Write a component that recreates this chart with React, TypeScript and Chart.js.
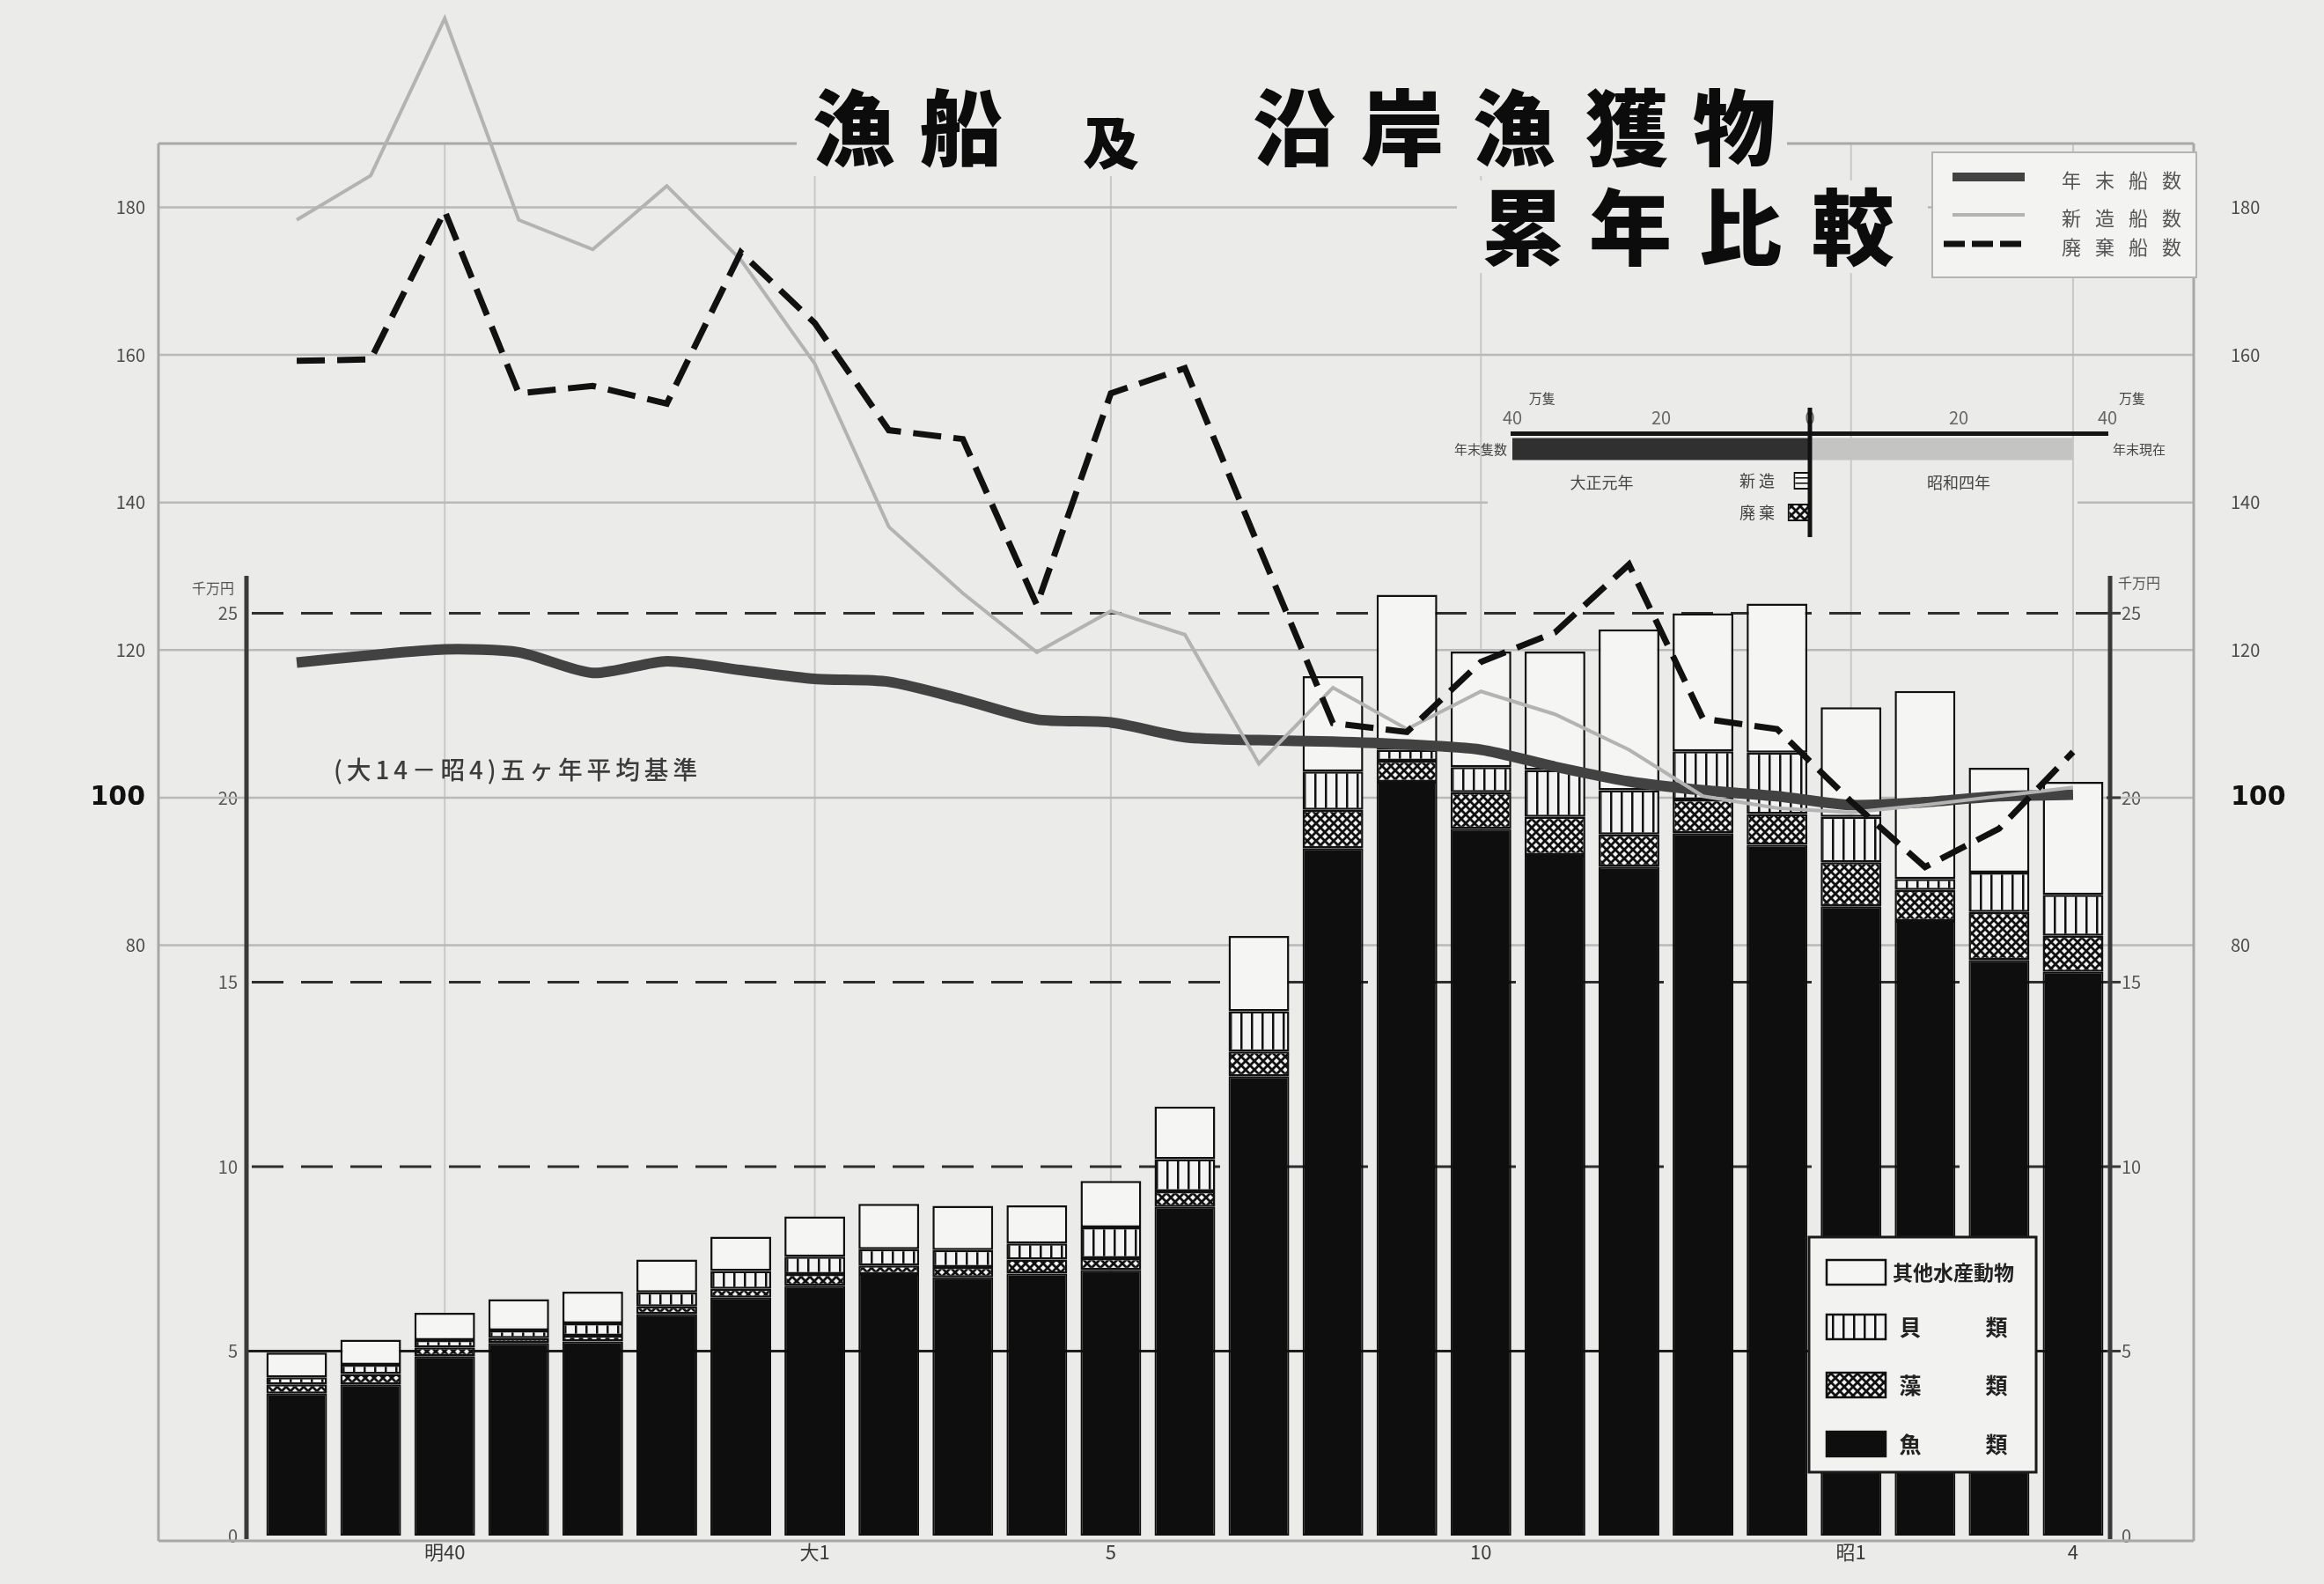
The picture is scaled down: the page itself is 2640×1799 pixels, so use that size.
import React, { useEffect, useRef } from 'react';
import { Chart, registerables } from 'chart.js';

Chart.register(...registerables);

const FONT = '"Noto Sans CJK JP", "Noto Sans", sans-serif';
const BG = '#ebebea';

// ---- categories (years) and tick labels ----
const years = ['明38', '明39', '明40', '明41', '明42', '明43', '明44', '大1', '大2', '大3', '大4', '大5', '大6', '大7', '大8', '大9', '大10', '大11', '大12', '大13', '大14', '昭1', '昭2', '昭3', '昭4'];
const xTickLabels = ['', '', '明40', '', '', '', '', '大1', '', '', '', '5', '', '', '', '', '10', '', '', '', '', '昭1', '', '', '4'];

// ---- 沿岸漁獲物 (千万円), stacked ----
const fish = [3.85, 4.10, 4.86, 5.22, 5.26, 6.01, 6.45, 6.77, 7.09, 7.00, 7.10, 7.20, 8.91, 12.45, 18.63, 20.43, 19.16, 18.45, 18.13, 19.04, 18.72, 17.06, 16.66, 15.60, 15.28];
const seaweed = [0.25, 0.28, 0.24, 0.13, 0.16, 0.20, 0.24, 0.32, 0.23, 0.28, 0.38, 0.32, 0.42, 0.67, 1.04, 0.57, 0.99, 1.03, 0.87, 0.91, 0.84, 1.19, 0.84, 1.30, 0.98];
const shellfish = [0.19, 0.25, 0.20, 0.21, 0.33, 0.38, 0.48, 0.47, 0.44, 0.46, 0.44, 0.83, 0.87, 1.09, 1.04, 0.30, 0.68, 1.27, 1.20, 1.31, 1.66, 1.23, 0.30, 1.07, 1.11];
const otherAnimals = [0.67, 0.68, 0.74, 0.85, 0.86, 0.89, 0.93, 1.09, 1.23, 1.20, 1.03, 1.26, 1.43, 2.04, 2.58, 4.20, 3.13, 3.21, 4.36, 3.74, 4.04, 2.97, 5.09, 2.84, 3.06];

// ---- 漁船 indices (大14-昭4 五ヶ年平均 = 100) ----
const boatsYearEnd = [118.3, 119.3, 120.1, 119.7, 116.9, 118.5, 117.3, 116.1, 115.7, 113.3, 110.6, 110.2, 108.2, 107.8, 107.6, 107.2, 106.5, 104.2, 102.2, 101.0, 100.2, 99.0, 99.4, 100.2, 100.4];
const boatsNew = [178.3, 184.3, 205.6, 178.3, 174.3, 182.9, 172.9, 158.8, 136.7, 127.7, 119.7, 125.3, 122.1, 104.6, 114.9, 109.3, 114.4, 111.3, 106.5, 100.2, 98.6, 98.0, 99.0, 100.2, 101.4];
const boatsScrapped = [159.2, 159.4, 179.5, 154.8, 155.8, 153.4, 173.9, 164.3, 149.8, 148.6, 126.1, 154.8, 158.2, 134.0, 110.1, 108.9, 118.4, 122.4, 131.6, 110.7, 109.3, 99.5, 90.6, 95.8, 106.2];

// ---- axis ticks ----
const innerTicks = [0, 5, 10, 15, 20, 25];
const indexTicks = [80, 100, 120, 140, 160, 180];
const PX_PER_UNIT = 41.9;
const YMAX = 41.62;

// ---- inset (万隻) ----
const insetRows = ['年末', '新造', '廃棄'];
const insetTicks = [-40, -20, 0, 20, 40];
const taishoBoats = [40.2, null, null];
const showaBoats = [35.3, null, null];
const newBoats = [null, 2.2, null];
const scrappedBoats = [null, null, 3.0];

function makePattern(kind: 'vert' | 'cross' | 'horiz'): CanvasPattern {
  const c = document.createElement('canvas');
  const g = c.getContext('2d') as CanvasRenderingContext2D;
  if (kind === 'vert') {
    c.width = 12; c.height = 12;
    g.fillStyle = '#f3f3f3'; g.fillRect(0, 0, 12, 12);
    g.fillStyle = '#111'; g.fillRect(5, 0, 2.5, 12);
  } else if (kind === 'horiz') {
    c.width = 8; c.height = 6;
    g.fillStyle = '#f3f3f3'; g.fillRect(0, 0, 8, 6);
    g.fillStyle = '#111'; g.fillRect(0, 2, 8, 1.6);
  } else {
    c.width = 10; c.height = 10;
    g.fillStyle = '#f3f3f3'; g.fillRect(0, 0, 10, 10);
    g.strokeStyle = '#111'; g.lineWidth = 2.8;
    g.beginPath();
    g.moveTo(-1, -1); g.lineTo(11, 11);
    g.moveTo(11, -1); g.lineTo(-1, 11);
    g.stroke();
  }
  return g.createPattern(c, 'repeat') as CanvasPattern;
}

function line(ctx: CanvasRenderingContext2D, x1: number, y1: number, x2: number, y2: number) {
  ctx.beginPath(); ctx.moveTo(x1, y1); ctx.lineTo(x2, y2); ctx.stroke();
}

function zeroPad(s: any) {
  s.paddingTop = 0; s.paddingBottom = 0; s.paddingLeft = 0; s.paddingRight = 0;
}

const FRAME_L = 180, FRAME_R = 2492, FRAME_T = 163, AXIS_L = 280;

const bgPlugin = {
  id: 'bgfill',
  beforeDraw(chart: any) {
    const { ctx, width, height } = chart;
    ctx.save(); ctx.fillStyle = BG; ctx.fillRect(0, 0, width, height); ctx.restore();
  },
};

const gridPlugin = {
  id: 'grids',
  beforeDatasetsDraw(chart: any) {
    const ctx: CanvasRenderingContext2D = chart.ctx;
    const x = chart.scales.x, yi = chart.scales.yIn, yx = chart.scales.yIdxL;
    const base = yi.getPixelForValue(0);
    const axisR = x.right;
    ctx.save();
    // vertical grid lines at labelled years
    ctx.strokeStyle = '#c8c8c8'; ctx.lineWidth = 2;
    xTickLabels.forEach((l, i) => { if (l) { const px = x.getPixelForValue(i); line(ctx, px, FRAME_T, px, base); } });
    // index grid lines
    ctx.strokeStyle = '#b9b9b9'; ctx.lineWidth = 2.5;
    indexTicks.forEach((v) => {
      const py = yx.getPixelForValue(v);
      if (v === 140) { line(ctx, FRAME_L, py, 1690, py); line(ctx, 2360, py, FRAME_R, py); }
      else line(ctx, FRAME_L, py, FRAME_R, py);
    });
    // outer frame
    ctx.strokeStyle = '#a8a8a8'; ctx.lineWidth = 3;
    line(ctx, FRAME_L, FRAME_T, FRAME_R, FRAME_T);
    line(ctx, FRAME_L, FRAME_T, FRAME_L, base + 6);
    line(ctx, FRAME_R, FRAME_T, FRAME_R, base + 6);
    line(ctx, FRAME_L, base + 6, FRAME_R, base + 6);
    // inner horizontal lines
    ctx.strokeStyle = '#1d1d1d'; ctx.lineWidth = 3;
    const p5 = yi.getPixelForValue(5);
    line(ctx, AXIS_L, p5, axisR, p5);
    ctx.setLineDash([36, 20]); ctx.strokeStyle = '#2e2e2e';
    [10, 15, 25].forEach((v) => { const py = yi.getPixelForValue(v); line(ctx, AXIS_L + 6, py, axisR, py); });
    ctx.setLineDash([]);
    // inner axes
    ctx.strokeStyle = '#3a3a3a'; ctx.lineWidth = 5;
    line(ctx, AXIS_L, 654, AXIS_L, base + 4);
    line(ctx, axisR, 654, axisR, base + 4);
    ctx.lineWidth = 3;
    innerTicks.forEach((v) => { if (v > 0) { const py = yi.getPixelForValue(v); line(ctx, axisR - 4, py, axisR + 12, py); } });
    ctx.restore();
  },
};

const overlayPlugin = {
  id: 'overlay',
  afterDatasetsDraw(chart: any) {
    const ctx: CanvasRenderingContext2D = chart.ctx;
    const ds = chart.data.datasets;
    ctx.save();
    // title
    ctx.fillStyle = BG;
    ctx.fillRect(905, 110, 1125, 90);
    ctx.fillRect(1655, 205, 535, 105);
    ctx.fillStyle = '#0c0c0c';
    ctx.textAlign = 'center'; ctx.textBaseline = 'middle';
    ctx.font = `900 94px ${FONT}`;
    const t1: [string, number][] = [['漁', 970], ['船', 1092], ['沿', 1470], ['岸', 1593], ['漁', 1720], ['獲', 1848], ['物', 1970]];
    t1.forEach(([c, cx]) => ctx.fillText(c, cx, 145));
    ctx.font = `900 64px ${FONT}`;
    ctx.fillText('及', 1262, 162);
    ctx.font = `900 94px ${FONT}`;
    const t2: [string, number][] = [['累', 1730], ['年', 1852], ['比', 1977], ['較', 2105]];
    t2.forEach(([c, cx]) => ctx.fillText(c, cx, 258));

    // top-right legend (lines)
    ctx.fillStyle = '#f3f3f2'; ctx.strokeStyle = '#b4b4b4'; ctx.lineWidth = 2;
    ctx.fillRect(2195, 173, 300, 142); ctx.strokeRect(2195, 173, 300, 142);
    const rows = [
      { ds: ds[4], y: 205, x1: 2218 },
      { ds: ds[5], y: 248, x1: 2218 },
      { ds: ds[6], y: 281, x1: 2208 },
    ];
    rows.forEach((r) => {
      ctx.strokeStyle = r.ds.borderColor; ctx.lineWidth = Math.min(r.ds.borderWidth, 10);
      ctx.setLineDash(r.ds.borderDash ? [24, 8] : []);
      line(ctx, r.x1, r.y - 4, 2300, r.y - 4);
      ctx.setLineDash([]);
      ctx.fillStyle = '#555'; ctx.font = `22px ${FONT}`;
      const chars = String(r.ds.label).split('');
      chars.forEach((c, k) => ctx.fillText(c, 2353 + k * 38, r.y));
    });

    // bottom-right legend (bars)
    ctx.fillStyle = '#f2f2f1'; ctx.strokeStyle = '#1a1a1a'; ctx.lineWidth = 3;
    ctx.fillRect(2055, 1405, 258, 267); ctx.strokeRect(2055, 1405, 258, 267);
    const barRows = [3, 2, 1, 0];
    const ys = [1445, 1507, 1573, 1640];
    barRows.forEach((di, k) => {
      const d = ds[di];
      ctx.fillStyle = d.backgroundColor; ctx.fillRect(2075, ys[k] - 14, 67, 28);
      ctx.strokeStyle = '#111'; ctx.lineWidth = 2.5; ctx.strokeRect(2075, ys[k] - 14, 67, 28);
      ctx.fillStyle = '#222';
      const lbl = String(d.label);
      if (lbl.length > 2) {
        ctx.font = `bold 23px ${FONT}`; ctx.textAlign = 'left';
        ctx.fillText(lbl, 2150, ys[k], 150);
        ctx.textAlign = 'center';
      } else {
        ctx.font = `bold 25px ${FONT}`;
        ctx.fillText(lbl[0], 2170, ys[k]); ctx.fillText(lbl[1], 2268, ys[k]);
      }
    });

    // base note
    ctx.fillStyle = '#3c3c3c'; ctx.font = `500 28px ${FONT}`; ctx.textAlign = 'left';
    (ctx as any).letterSpacing = '5px';
    ctx.fillText('(大14－昭4)五ヶ年平均基準', 379, 874, 418);
    (ctx as any).letterSpacing = '0px';

    // unit labels
    ctx.fillStyle = '#555'; ctx.font = `16px ${FONT}`; ctx.textAlign = 'center';
    ctx.fillText('千万円', 242, 668);
    ctx.fillText('千万円', 2430, 662);
    ctx.restore();
  },
};

const insetPlugin = {
  id: 'insetText',
  afterDatasetsDraw(chart: any) {
    const ctx: CanvasRenderingContext2D = chart.ctx;
    const xs = chart.scales.x, ys = chart.scales.y;
    const x0 = xs.getPixelForValue(0);
    ctx.save();
    ctx.strokeStyle = '#111'; ctx.lineWidth = 5;
    line(ctx, x0, 43, x0, 190);
    ctx.fillStyle = '#444'; ctx.textBaseline = 'middle';
    ctx.font = `15px ${FONT}`; ctx.textAlign = 'right';
    ctx.fillText('年末隻数', 112, ys.getPixelForValue(0));
    ctx.textAlign = 'left';
    ctx.fillText('年末現在', 800, ys.getPixelForValue(0));
    ctx.font = `18px ${FONT}`; ctx.textAlign = 'center';
    ctx.fillText('大正元年', xs.getPixelForValue(-28), 128);
    ctx.fillText('昭和四年', xs.getPixelForValue(20), 128);
    ctx.textAlign = 'right';
    ctx.fillText('新 造', x0 - 40, ys.getPixelForValue(1));
    ctx.fillText('廃 棄', x0 - 40, ys.getPixelForValue(2));
    ctx.font = `15px ${FONT}`; ctx.textAlign = 'center';
    ctx.fillText('万隻', xs.getPixelForValue(-36), 32);
    ctx.fillText('万隻', xs.getPixelForValue(40) + 28, 32);
    ctx.restore();
  },
};

export default function App() {
  const mainRef = useRef<HTMLCanvasElement | null>(null);
  const insetRef = useRef<HTMLCanvasElement | null>(null);

  useEffect(() => {
    Chart.defaults.font.family = FONT;
    const vert = makePattern('vert');
    const cross = makePattern('cross');
    const horiz = makePattern('horiz');

    const idxFont = (c: any) => (c.tick && c.tick.value === 100
      ? { size: 30, weight: 'bold', family: '"DejaVu Sans", sans-serif' }
      : { size: 20 });
    const idxColor = (c: any) => (c.tick && c.tick.value === 100 ? '#111' : '#4a4a4a');

    const main = new Chart(mainRef.current as HTMLCanvasElement, {
      type: 'bar',
      data: {
        labels: years,
        datasets: [
          { type: 'bar', label: '魚類', data: fish, backgroundColor: '#0e0e0e', borderColor: '#0e0e0e', borderWidth: 2, borderSkipped: false, yAxisID: 'yIn', order: 10, categoryPercentage: 1, barPercentage: 0.82 },
          { type: 'bar', label: '藻類', data: seaweed, backgroundColor: cross, borderColor: '#111', borderWidth: 2.5, borderSkipped: false, yAxisID: 'yIn', order: 10, categoryPercentage: 1, barPercentage: 0.82 },
          { type: 'bar', label: '貝類', data: shellfish, backgroundColor: vert, borderColor: '#111', borderWidth: 2.5, borderSkipped: false, yAxisID: 'yIn', order: 10, categoryPercentage: 1, barPercentage: 0.82 },
          { type: 'bar', label: '其他水産動物', data: otherAnimals, backgroundColor: '#f5f5f4', borderColor: '#111', borderWidth: 2.5, borderSkipped: false, yAxisID: 'yIn', order: 10, categoryPercentage: 1, barPercentage: 0.82 },
          { type: 'line', label: '年末船数', data: boatsYearEnd, borderColor: '#424242', borderWidth: 12, pointRadius: 0, tension: 0.25, yAxisID: 'yIdxL', order: 3, clip: false },
          { type: 'line', label: '新造船数', data: boatsNew, borderColor: '#b3b3b3', borderWidth: 4, pointRadius: 0, tension: 0, yAxisID: 'yIdxL', order: 2, clip: false },
          { type: 'line', label: '廃棄船数', data: boatsScrapped, borderColor: '#111', borderWidth: 7, borderDash: [32, 14], pointRadius: 0, tension: 0, yAxisID: 'yIdxL', order: 1, clip: false },
        ] as any,
      },
      options: {
        responsive: false,
        animation: false,
        layout: { padding: 0 },
        plugins: { legend: { display: false }, tooltip: { enabled: false } },
        scales: {
          x: {
            type: 'category', offset: true, stacked: true,
            grid: { display: false, drawTicks: false }, border: { display: false },
            ticks: { autoSkip: false, maxRotation: 0, padding: 5, color: '#3a3a3a', font: { size: 22 }, callback: (_v: any, i: number) => xTickLabels[i] },
            afterFit: (s: any) => { s.height = 55; zeroPad(s); },
          },
          yIn: {
            type: 'linear', position: 'left', weight: 0, min: 0, max: YMAX, stacked: true,
            grid: { display: false, drawTicks: false }, border: { display: false },
            ticks: { padding: 25, color: '#555', font: { size: 20 } },
            afterBuildTicks: (s: any) => { s.ticks = innerTicks.map((v) => ({ value: v })); },
            afterFit: (s: any) => { s.width = 90; zeroPad(s); },
          },
          yIdxL: {
            type: 'linear', position: 'left', weight: 1, min: 0, max: YMAX * 5,
            grid: { display: false, drawTicks: false }, border: { display: false },
            ticks: { padding: 40, color: idxColor, font: idxFont },
            afterBuildTicks: (s: any) => { s.ticks = indexTicks.map((v) => ({ value: v })); },
            afterFit: (s: any) => { s.width = 205; zeroPad(s); },
          },
          yInR: {
            type: 'linear', position: 'right', weight: 0, min: 0, max: YMAX,
            grid: { display: false, drawTicks: false }, border: { display: false },
            ticks: { padding: 13, color: '#555', font: { size: 20 } },
            afterBuildTicks: (s: any) => { s.ticks = innerTicks.map((v) => ({ value: v })); },
            afterFit: (s: any) => { s.width = 95; zeroPad(s); },
          },
          yIdxR: {
            type: 'linear', position: 'right', weight: 1, min: 0, max: YMAX * 5,
            grid: { display: false, drawTicks: false }, border: { display: false },
            ticks: { padding: 42, color: idxColor, font: idxFont },
            afterBuildTicks: (s: any) => { s.ticks = indexTicks.map((v) => ({ value: v })); },
            afterFit: (s: any) => { s.width = 148; zeroPad(s); },
          },
        } as any,
      },
      plugins: [bgPlugin, gridPlugin, overlayPlugin],
    });

    // keep the printed scale (px per unit) regardless of layout rounding
    const ca = main.chartArea;
    const wantMax = (ca.bottom - ca.top) / PX_PER_UNIT;
    if (Math.abs(wantMax - YMAX) > 0.01) {
      const sc: any = main.options.scales;
      sc.yIn.max = wantMax; sc.yInR.max = wantMax;
      sc.yIdxL.max = wantMax * 5; sc.yIdxR.max = wantMax * 5;
      main.update();
    }

    const neg = (a: (number | null)[]) => a.map((v) => (v == null ? null : -v));
    const inset = new Chart(insetRef.current as HTMLCanvasElement, {
      type: 'bar',
      data: {
        labels: insetRows,
        datasets: [
          { label: '大正元年', data: neg(taishoBoats), backgroundColor: '#303030', barPercentage: 0.7, categoryPercentage: 1 },
          { label: '昭和四年', data: showaBoats, backgroundColor: '#c4c4c3', barPercentage: 0.7, categoryPercentage: 1 },
          { label: '新造', data: neg(newBoats), backgroundColor: horiz, borderColor: '#111', borderWidth: 2, barPercentage: 0.55, categoryPercentage: 1 },
          { label: '廃棄', data: neg(scrappedBoats), backgroundColor: cross, borderColor: '#111', borderWidth: 2, barPercentage: 0.55, categoryPercentage: 1 },
        ] as any,
      },
      options: {
        indexAxis: 'y',
        responsive: false,
        animation: false,
        layout: { padding: { left: 118, right: 106, top: 0, bottom: 20 } },
        plugins: { legend: { display: false }, tooltip: { enabled: false } },
        scales: {
          x: {
            type: 'linear', position: 'top', min: -40, max: 40, stacked: true,
            grid: { display: false, drawTicks: false },
            border: { display: true, color: '#151515', width: 5 },
            ticks: { padding: 6, color: '#666', font: { size: 20 }, callback: (v: any) => String(Math.abs(Number(v))) },
            afterBuildTicks: (s: any) => { s.ticks = insetTicks.map((v) => ({ value: v })); },
            afterFit: (s: any) => { s.height = 72; zeroPad(s); },
          },
          y: { type: 'category', stacked: true, display: false, offset: true },
        } as any,
      },
      plugins: [insetPlugin],
    });

    return () => { main.destroy(); inset.destroy(); };
  }, []);

  return (
    <div style={{ position: 'absolute', left: 0, top: 0, width: 2640, height: 1799, background: BG, overflow: 'hidden' }}>
      <canvas ref={mainRef} width={2640} height={1799} style={{ position: 'absolute', left: 0, top: 0, width: 2640, height: 1799 }} />
      <canvas ref={insetRef} width={900} height={200} style={{ position: 'absolute', left: 1600, top: 420, width: 900, height: 200 }} />
    </div>
  );
}
